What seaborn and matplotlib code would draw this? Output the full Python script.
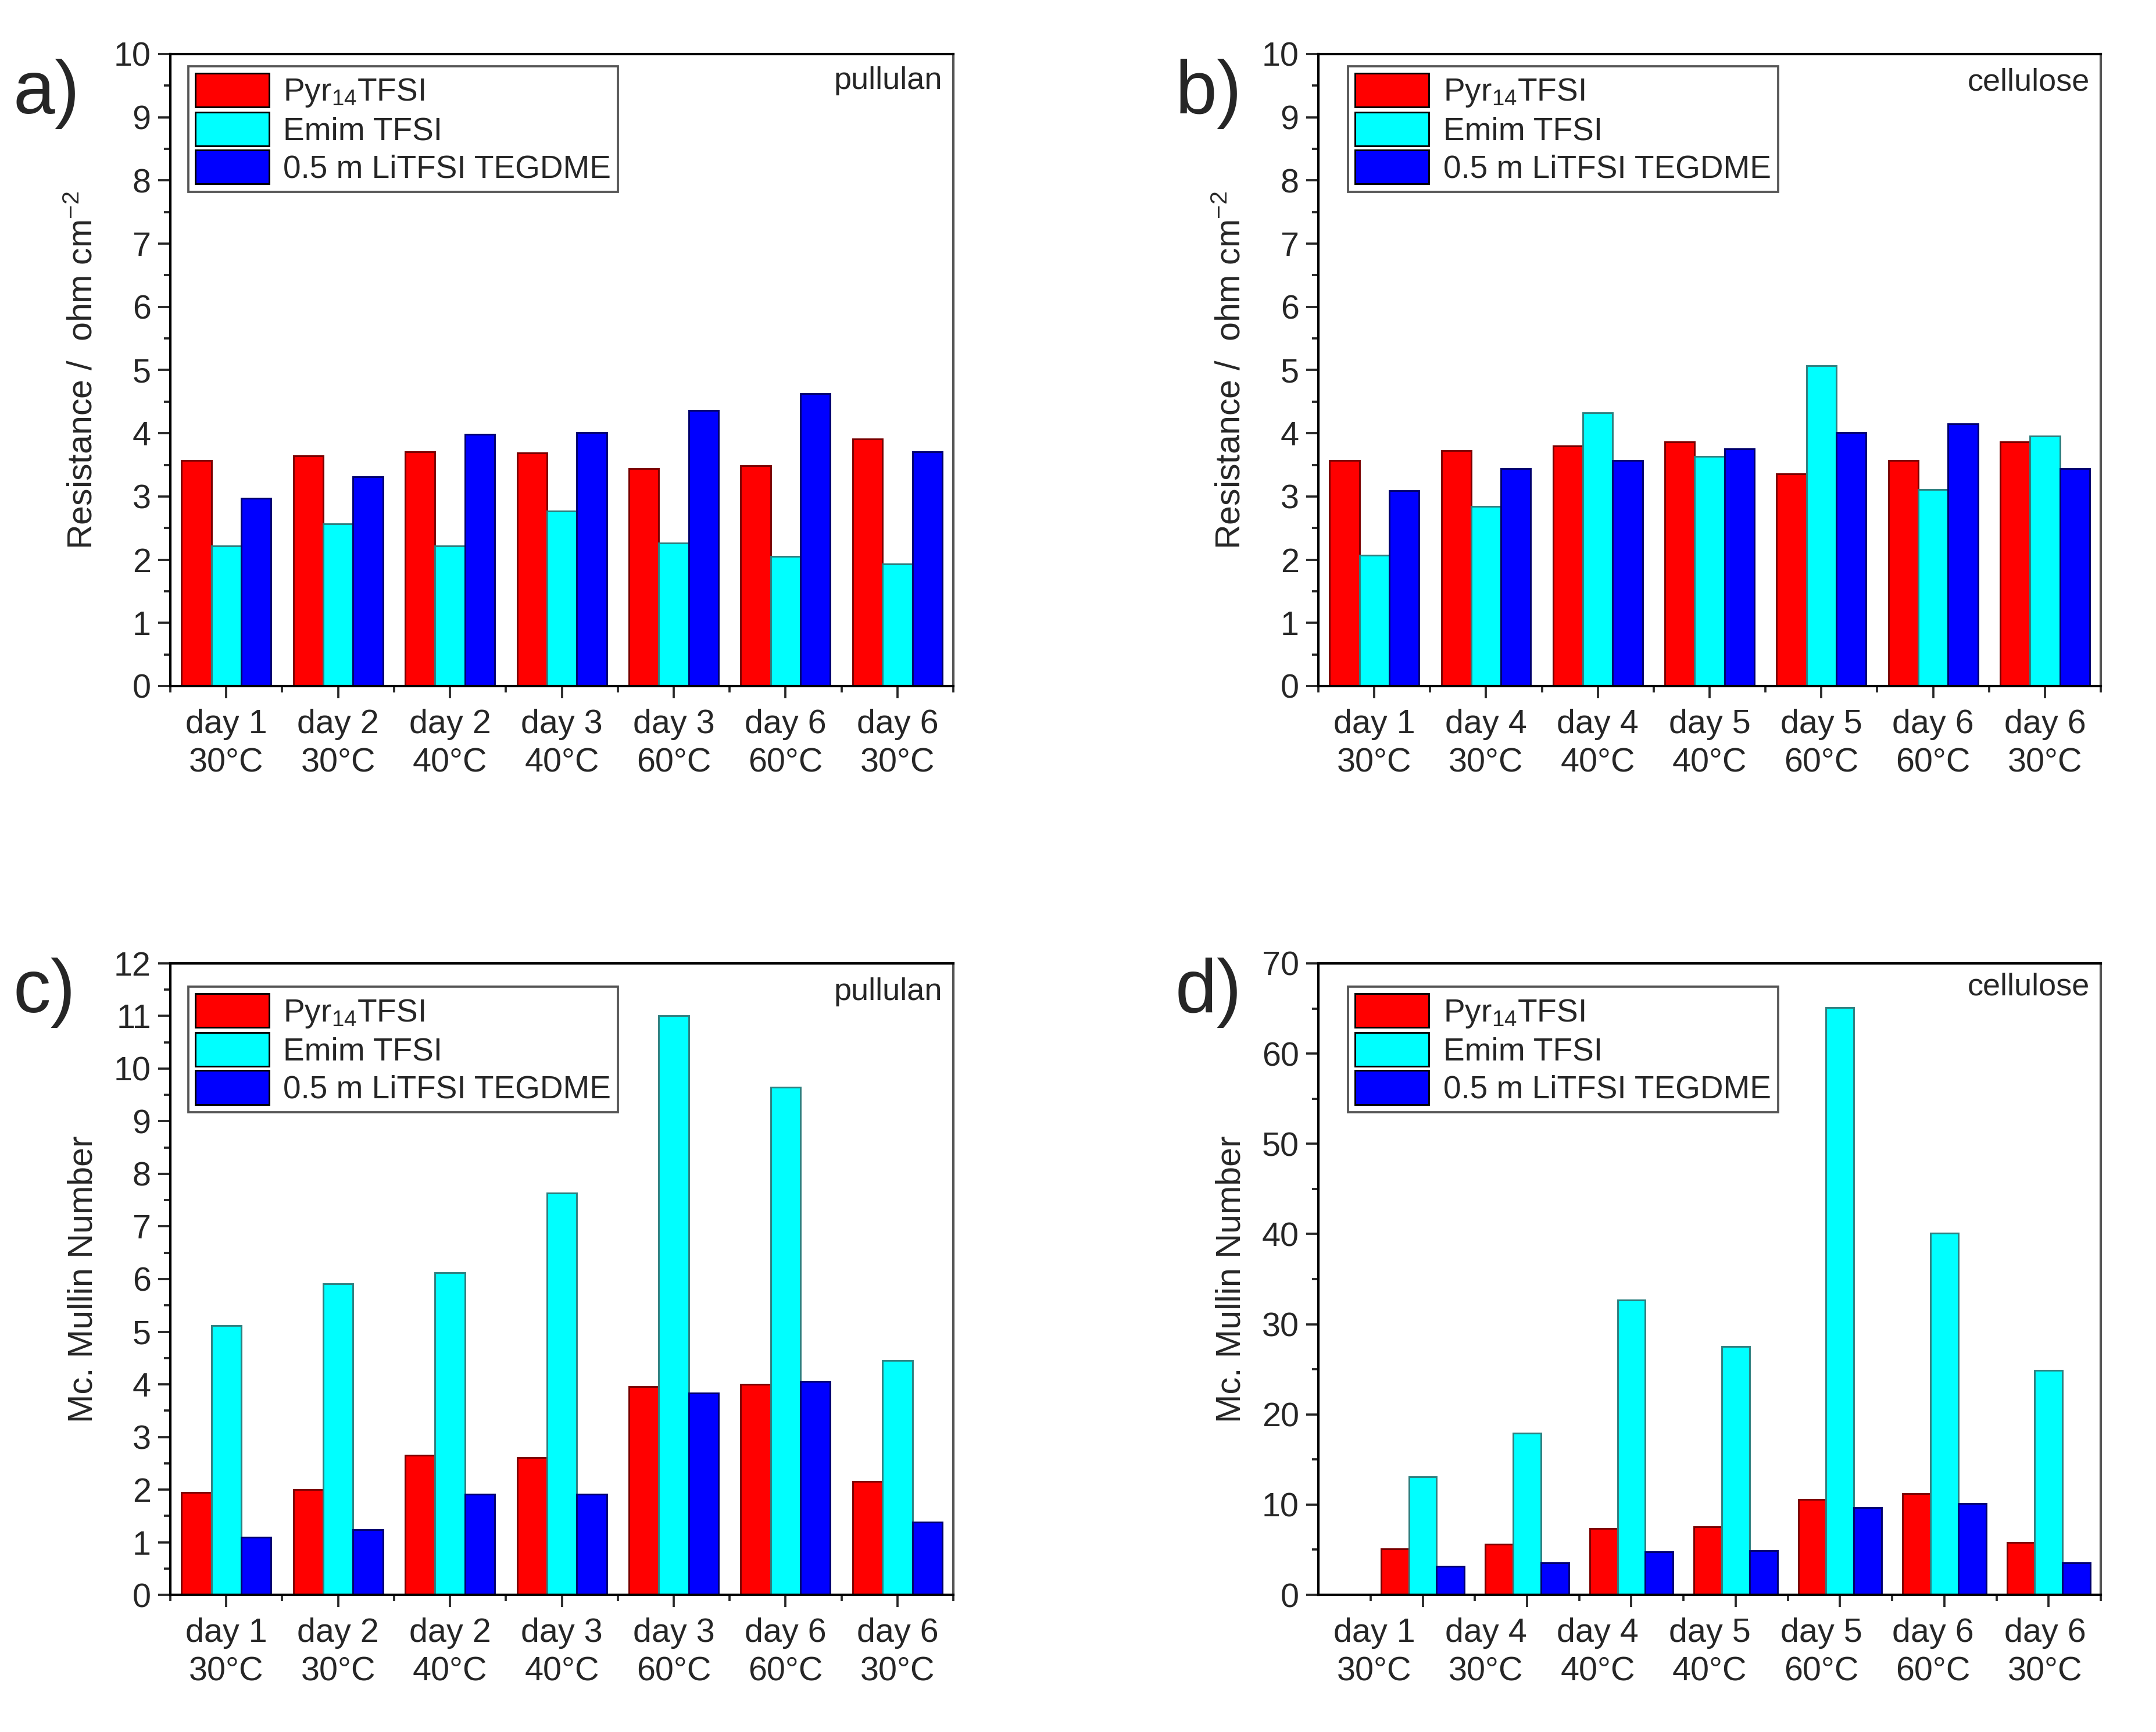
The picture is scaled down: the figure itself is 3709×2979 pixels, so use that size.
import matplotlib
matplotlib.use("Agg")
import matplotlib.pyplot as plt
from matplotlib.ticker import MultipleLocator, FixedLocator
import seaborn as sns
import pandas as pd

# ---------------- data ----------------
series = ["Pyr$_{14}$TFSI", "Emim TFSI", "0.5 m LiTFSI TEGDME"]
colors = ["#FF0000", "#00FFFF", "#0000FF"]
edge_colors = ["#7a0000", "#2f7f7f", "#00006e"]

cond_pullulan = ["day 1\n30°C", "day 2\n30°C", "day 2\n40°C", "day 3\n40°C",
                 "day 3\n60°C", "day 6\n60°C", "day 6\n30°C"]
cond_cellulose = ["day 1\n30°C", "day 4\n30°C", "day 4\n40°C", "day 5\n40°C",
                  "day 5\n60°C", "day 6\n60°C", "day 6\n30°C"]

# a) resistance, pullulan
res_pul_pyr = [3.57, 3.64, 3.71, 3.69, 3.44, 3.49, 3.91]
res_pul_emim = [2.22, 2.57, 2.22, 2.77, 2.26, 2.05, 1.93]
res_pul_li = [2.97, 3.31, 3.98, 4.01, 4.36, 4.63, 3.71]

# b) resistance, cellulose
res_cel_pyr = [3.57, 3.73, 3.80, 3.86, 3.36, 3.57, 3.86]
res_cel_emim = [2.07, 2.84, 4.32, 3.63, 5.07, 3.11, 3.96]
res_cel_li = [3.09, 3.44, 3.57, 3.75, 4.01, 4.15, 3.44]

# c) McMullin number, pullulan
mm_pul_pyr = [1.94, 2.00, 2.65, 2.61, 3.96, 4.00, 2.15]
mm_pul_emim = [5.12, 5.91, 6.12, 7.63, 11.0, 9.65, 4.45]
mm_pul_li = [1.10, 1.24, 1.91, 1.91, 3.83, 4.06, 1.38]

# d) McMullin number, cellulose
mm_cel_pyr = [5.08, 5.64, 7.37, 7.54, 10.6, 11.2, 5.81]
mm_cel_emim = [13.1, 17.9, 32.7, 27.5, 65.1, 40.1, 24.9]
mm_cel_li = [3.18, 3.52, 4.75, 4.92, 9.66, 10.1, 3.52]

panels = [
    ("a)", cond_pullulan, [res_pul_pyr, res_pul_emim, res_pul_li], "pullulan",
     "Resistance /  ohm cm$^{-2}$", 10, 1, 0.5),
    ("b)", cond_cellulose, [res_cel_pyr, res_cel_emim, res_cel_li], "cellulose",
     "Resistance /  ohm cm$^{-2}$", 10, 1, 0.5),
    ("c)", cond_pullulan, [mm_pul_pyr, mm_pul_emim, mm_pul_li], "pullulan",
     "Mc. Mullin Number", 12, 1, 0.5),
    ("d)", cond_cellulose, [mm_cel_pyr, mm_cel_emim, mm_cel_li], "cellulose",
     "Mc. Mullin Number", 70, 10, 5),
]

# ---------------- style ----------------
sns.set_style("ticks")
plt.rcParams["font.family"] = ["Liberation Sans", "DejaVu Sans"]
plt.rcParams["mathtext.fontset"] = "custom"
plt.rcParams["mathtext.rm"] = "Liberation Sans"
plt.rcParams["mathtext.it"] = "Liberation Sans:italic"
plt.rcParams["mathtext.bf"] = "Liberation Sans:bold"
plt.rcParams["axes.linewidth"] = 1.0
plt.rcParams["axes.edgecolor"] = "black"

FS = 13.8
LFS = 13.2
fig = plt.figure(figsize=(3709 / 300, 2979 / 300), dpi=300)

positions = {
    "a)": [0.0790, 0.6039, 0.3632, 0.3649],
    "b)": [0.6115, 0.6039, 0.3629, 0.3649],
    "c)": [0.0790, 0.0792, 0.3632, 0.3646],
    "d)": [0.6115, 0.0792, 0.3629, 0.3646],
}
letter_pos = {"a)": (0.006, 0.966), "b)": (0.545, 0.966),
              "c)": (0.006, 0.447), "d)": (0.545, 0.447)}
legend_anchor = {"a)": (0.023, 0.981), "b)": (0.038, 0.981),
                 "c)": (0.023, 0.963), "d)": (0.038, 0.963)}
tag_y = {"a)": 0.958, "b)": 0.955, "c)": 0.955, "d)": 0.963}

for letter, conds, vals, tag, ylabel, ymax, major, minor in panels:
    ax = fig.add_axes(positions[letter])
    rows = []
    for s, v in zip(series, vals):
        for c, y in zip(conds, v):
            rows.append({"condition": c, "value": y, "electrolyte": s})
    df = pd.DataFrame(rows)
    sns.barplot(data=df, x="condition", y="value", hue="electrolyte",
                order=conds, hue_order=series, palette=colors,
                saturation=1, width=0.8, linewidth=0.7, edgecolor="black",
                ax=ax)
    for cont, ec in zip(ax.containers, edge_colors):
        for p in cont.patches:
            p.set_edgecolor(ec)
            p.set_linewidth(0.7)

    ax.set_ylim(0, ymax)
    if letter == "d)":
        ax.set_xlim(-1.0, 6.5)
    else:
        ax.set_xlim(-0.5, 6.5)
    ax.yaxis.set_major_locator(MultipleLocator(major))
    ax.yaxis.set_minor_locator(MultipleLocator(minor))
    ax.set_xticks(range(len(conds)))
    ax.set_xticklabels([""] * len(conds))
    ax.xaxis.set_minor_locator(FixedLocator([i + 0.5 for i in range(-1, len(conds))]))
    ax.tick_params(axis="both", which="major", direction="out", length=5,
                   width=0.9, labelsize=FS, pad=3)
    ax.tick_params(axis="both", which="minor", direction="out", length=2.6,
                   width=0.9)
    for sp in ax.spines.values():
        sp.set_visible(True)
        sp.set_linewidth(1.0)
    ax.spines["right"].set_color("#555555")

    # category labels (placed at the same axes fractions in every panel)
    n = len(conds)
    for i, c in enumerate(conds):
        ax.text((i + 0.5) / n, -0.036, c, transform=ax.transAxes,
                ha="center", va="top", fontsize=FS, linespacing=1.3)

    ax.set_xlabel("")
    ax.set_ylabel(ylabel, fontsize=14.2, labelpad=6)

    leg = ax.legend(loc="upper left", bbox_to_anchor=legend_anchor[letter],
                    fontsize=LFS, frameon=True, fancybox=False, framealpha=1,
                    edgecolor="#555555", handlelength=2.3, handleheight=1.25,
                    labelspacing=0.1, handletextpad=0.45, borderpad=0.22,
                    borderaxespad=0)
    leg.get_frame().set_linewidth(0.9)

    ax.text(0.986, tag_y[letter], tag, transform=ax.transAxes, ha="right",
            va="center", fontsize=13)

    fig.text(letter_pos[letter][0], letter_pos[letter][1], letter,
             fontsize=31, ha="left", va="top")

fig.savefig("out.png", dpi=300, facecolor="white")
